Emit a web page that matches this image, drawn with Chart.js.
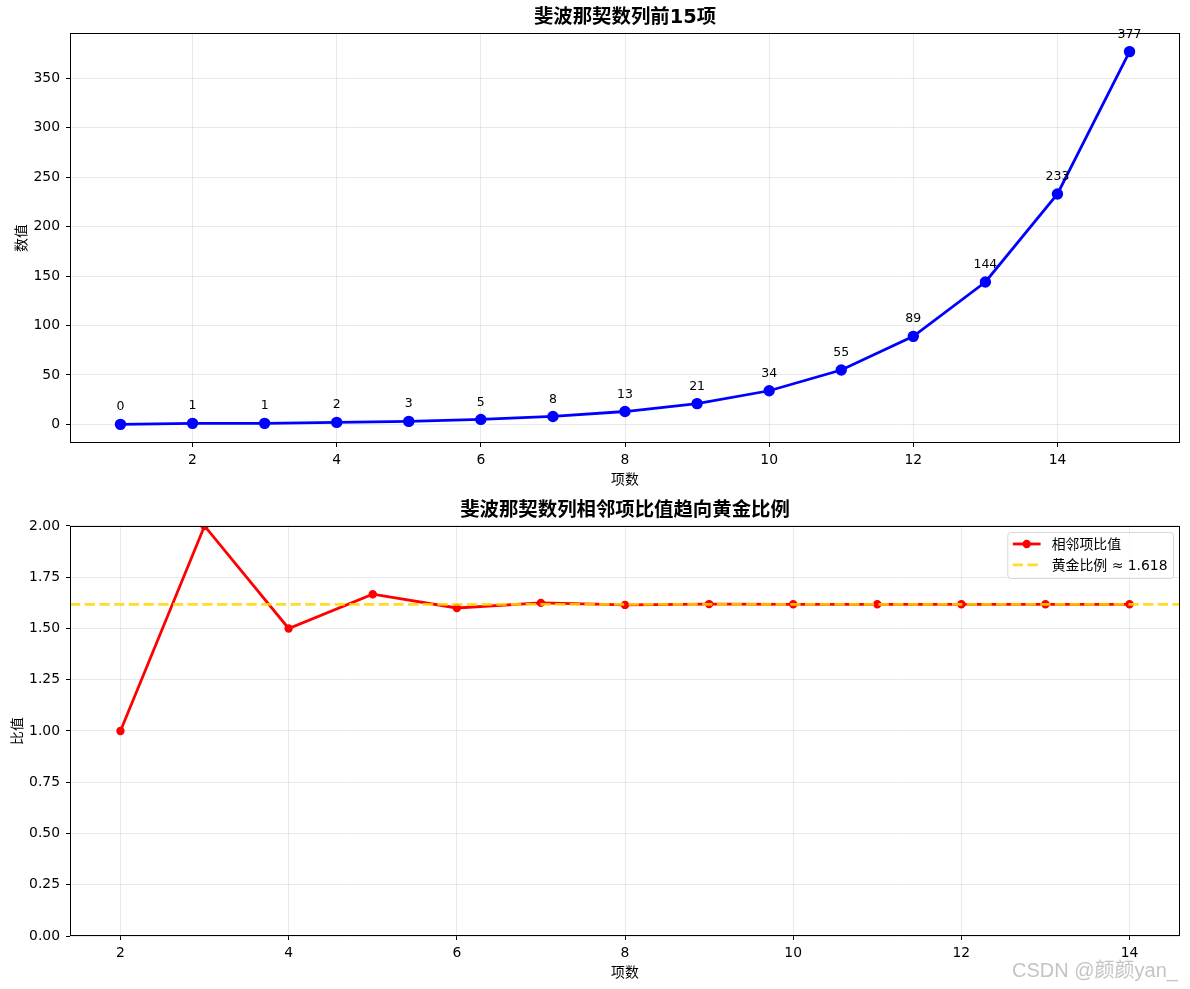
<!DOCTYPE html>
<html><head><meta charset="utf-8">
<script src="https://cdn.jsdelivr.net/npm/chart.js@4.4.1/dist/chart.umd.min.js"></script>
<style>
html,body{margin:0;padding:0;background:#fff;width:1190px;height:989px;overflow:hidden;}
.box{position:absolute;left:0;width:1190px;height:494px;}
#wm{position:absolute;left:1012px;top:954px;font:20px "Liberation Sans","Noto Sans CJK SC",sans-serif;color:#c4c4c4;white-space:nowrap;letter-spacing:0px;}
</style></head><body>
<div class="box" style="top:0"><canvas id="c1" width="1190" height="494"></canvas></div>
<div class="box" style="top:493px"><canvas id="c2" width="1190" height="494"></canvas></div>
<div id="wm">CSDN @颜颜yan_</div>
<script>
// ---- data ----
const terms = [1,2,3,4,5,6,7,8,9,10,11,12,13,14,15];
const fibValues = [0,1,1,2,3,5,8,13,21,34,55,89,144,233,377];
const ratioTerms = [2,3,4,5,6,7,8,9,10,11,12,13,14];
const ratioValues = [1.0,2.0,1.5,1.667,1.6,1.625,1.615,1.619,1.618,1.618,1.618,1.618,1.618];
const goldenRatio = 1.618;
const topXTicks = [2,4,6,8,10,12,14];
const topYTicks = [0,50,100,150,200,250,300,350];
const bottomXTicks = [2,4,6,8,10,12,14];
const bottomYTicks = [0,0.25,0.5,0.75,1.0,1.25,1.5,1.75,2.0];
const topTitle = '斐波那契数列前15项';
const bottomTitle = '斐波那契数列相邻项比值趋向黄金比例';
const xLabel = '项数';
const topYLabel = '数值';
const bottomYLabel = '比值';
const ratioLabel = '相邻项比值';
const goldenLabel = '黄金比例 ≈ 1.618';
const topXRange = [0.3, 15.7];
const topYRange = [-18.85, 395.85];
const bottomXRange = [1.4, 14.6];
const bottomYRange = [0, 2.0];

// ---- styling ----
const FAM = '"DejaVu Sans","Noto Sans CJK SC",sans-serif';
const CJK = '"Noto Sans CJK SC","DejaVu Sans",sans-serif';
const GRID = 'rgba(176,176,176,0.35)';

function makeX(range, ticks){
  return {
    type:'linear', min:range[0], max:range[1],
    afterBuildTicks: s => { s.ticks = ticks.map(v => ({value:v})); },
    ticks:{color:'#000', font:{family:FAM,size:13.9}, padding:5, maxRotation:0, autoSkip:false, callback:v=>String(v)},
    grid:{color:GRID, lineWidth:0.8, tickLength:4, tickColor:'#000', tickWidth:1},
    border:{display:false},
    title:{display:true,text:xLabel,color:'#000',font:{family:CJK,size:13.9,lineHeight:1.2},padding:{top:0,bottom:6.8}},
    afterFit: s => { s.height = 51; }
  };
}
function makeY(range, ticks, label, fmt, tpad){
  return {
    type:'linear', min:range[0], max:range[1],
    afterBuildTicks: s => { s.ticks = ticks.map(v => ({value:v})); },
    ticks:{color:'#000', font:{family:FAM,size:13.9}, padding:6, autoSkip:false, callback:fmt},
    grid:{color:GRID, lineWidth:0.8, tickLength:4, tickColor:'#000', tickWidth:1},
    border:{display:false},
    title:{display:true,text:label,color:'#000',font:{family:CJK,size:13.9,lineHeight:1.2},padding:{top:tpad,bottom:0}},
    afterFit: s => { s.width = 70; }
  };
}
function titleOpts(text){
  return {display:true,text:text,color:'#000',fullSize:false,
    font:{family:FAM,size:19.4,weight:'bold',lineHeight:1.2},padding:{top:6.2,bottom:3.5}};
}

const framePlugin = {
  id:'frame',
  afterDatasetsDraw(chart){
    const {ctx, chartArea:a} = chart;
    ctx.save();
    ctx.strokeStyle = '#000'; ctx.lineWidth = 1;
    const l = Math.round(a.left)+0.5, t = Math.round(a.top)+0.5, r = Math.round(a.right)-0.5, b = Math.round(a.bottom)-0.5;
    ctx.strokeRect(l, t, r-l, b-t);
    ctx.restore();
  }
};

const valueLabelPlugin = {
  id:'valueLabels',
  afterDatasetsDraw(chart){
    const {ctx} = chart;
    const meta = chart.getDatasetMeta(0);
    ctx.save();
    ctx.font = '12.5px ' + FAM;
    ctx.fillStyle = '#000';
    ctx.textAlign = 'center';
    ctx.textBaseline = 'alphabetic';
    meta.data.forEach((p, i) => {
      ctx.fillText(String(fibValues[i]), p.x, p.y - 13.9);
    });
    ctx.restore();
  }
};

const legendPlugin = {
  id:'boxLegend',
  afterDraw(chart){
    const {ctx, chartArea:a} = chart;
    const ds = chart.data.datasets;
    const fs = 13.9;
    ctx.save();
    ctx.font = fs + 'px ' + FAM;
    const tw = Math.max(...ds.map(d => ctx.measureText(d.label).width));
    const pad = 5.5, hl = 27.8, hp = 11.1;
    const w = pad + hl + hp + tw + pad;
    const rowH = 21;
    const h = 46;
    const x0 = a.right - 7 - w, y0 = a.top + 6;
    ctx.beginPath();
    if (ctx.roundRect) ctx.roundRect(x0+0.5, y0+0.5, w, h, 3); else ctx.rect(x0+0.5,y0+0.5,w,h);
    ctx.fillStyle = 'rgba(255,255,255,0.8)';
    ctx.fill();
    ctx.strokeStyle = 'rgba(204,204,204,0.8)';
    ctx.lineWidth = 1;
    ctx.stroke();
    ds.forEach((d, i) => {
      const cy = y0 + 12 + i*rowH;
      const hx = x0 + pad;
      ctx.save();
      ctx.strokeStyle = d.borderColor;
      ctx.lineWidth = d.borderWidth;
      ctx.setLineDash(d.borderDash || []);
      ctx.beginPath(); ctx.moveTo(hx, cy); ctx.lineTo(hx+hl, cy); ctx.stroke();
      ctx.restore();
      if (d.pointRadius > 0){
        ctx.beginPath(); ctx.arc(hx+hl/2, cy, d.pointRadius + d.pointBorderWidth/2, 0, Math.PI*2);
        ctx.fillStyle = d.pointBackgroundColor; ctx.fill();
      }
      ctx.fillStyle = '#000';
      ctx.textAlign = 'left'; ctx.textBaseline = 'middle';
      ctx.fillText(d.label, hx + hl + hp, cy + 1);
    });
    ctx.restore();
  }
};

const baseOpts = {
  responsive:false, animation:false, devicePixelRatio:1,
  layout:{padding:{left:0,right:10,top:0,bottom:0}},
};

new Chart(document.getElementById('c1'), {
  type:'line',
  data:{datasets:[{
    label:'斐波那契数',
    data: terms.map((t,i)=>({x:t,y:fibValues[i]})),
    borderColor:'#0000ff', backgroundColor:'#0000ff', borderWidth:2.78,
    pointRadius:5, pointBorderWidth:1.4, pointBackgroundColor:'#0000ff', pointBorderColor:'#0000ff',
    tension:0, fill:false
  }]},
  options:Object.assign({}, baseOpts, {
    scales:{ x: makeX(topXRange, topXTicks), y: makeY(topYRange, topYTicks, topYLabel, v=>String(v), 12.8) },
    plugins:{ legend:{display:false}, tooltip:{enabled:false}, title:titleOpts(topTitle) }
  }),
  plugins:[framePlugin, valueLabelPlugin]
});

new Chart(document.getElementById('c2'), {
  type:'line',
  data:{datasets:[{
    label:ratioLabel,
    data: ratioTerms.map((t,i)=>({x:t,y:ratioValues[i]})),
    borderColor:'#ff0000', backgroundColor:'#ff0000', borderWidth:2.78,
    pointRadius:3.5, pointBorderWidth:1.4, pointBackgroundColor:'#ff0000', pointBorderColor:'#ff0000',
    tension:0, fill:false, clip:0, order:1
  },{
    label:goldenLabel,
    data: [{x:bottomXRange[0],y:goldenRatio},{x:bottomXRange[1],y:goldenRatio}],
    borderColor:'rgba(255,215,0,0.85)', backgroundColor:'rgba(255,215,0,0.85)', borderWidth:2.78, borderDash:[10.3,4.4],
    pointRadius:0, pointBorderWidth:0, tension:0, fill:false, clip:0, order:0
  }]},
  options:Object.assign({}, baseOpts, {
    scales:{ x: makeX(bottomXRange, bottomXTicks), y: makeY(bottomYRange, bottomYTicks, bottomYLabel, v=>v.toFixed(2), 8) },
    plugins:{ legend:{display:false}, tooltip:{enabled:false}, title:titleOpts(bottomTitle) }
  }),
  plugins:[framePlugin, legendPlugin]
});
</script>
</body></html>
